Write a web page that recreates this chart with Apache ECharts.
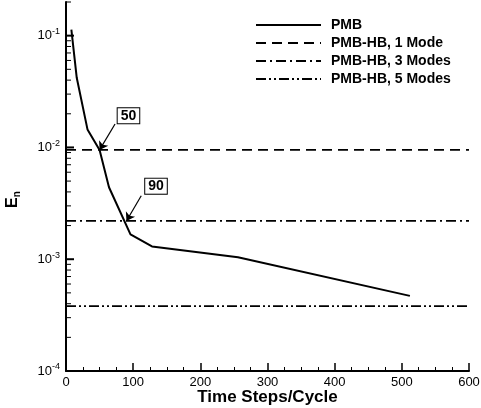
<!DOCTYPE html>
<html><head><meta charset="utf-8">
<script src="https://cdn.jsdelivr.net/npm/echarts@6/dist/echarts.min.js"></script>
<style>html,body{margin:0;padding:0;background:#fff}#c{width:481px;height:408px}</style>
</head><body><div id="c"></div>
<script>
// ---- data ----
const pmbName = 'PMB';
const pmbSteps = [8, 16, 32, 50, 64, 96, 128, 256, 512];
const pmbErr = [0.113, 0.042, 0.0145, 0.0095, 0.0044, 0.00167, 0.0013, 0.00104, 0.00047];
const hbNames = ['PMB-HB, 1 Mode', 'PMB-HB, 3 Modes', 'PMB-HB, 5 Modes'];
const hbErr = [0.0095, 0.0022, 0.00038];
const hbSpan = [0, 600];
const annoText = ['50', '90'];
const annoTarget = [[50, 0.0095], [90, 0.0022]];
const annoTail = [[73, 0.0162], [112, 0.0037]];
const annoBox = [[93, 0.0192], [134, 0.0045]];
const yDecades = [-4, -3, -2, -1];

const FONT = 'Liberation Sans';
const yTickVals = [];
yDecades.forEach(function (e) {
  for (let m = 1; m <= 9; m++) {
    const v = m * Math.pow(10, e);
    if (v <= 0.2) yTickVals.push([0, v, m === 1 ? 1 : 0]);
  }
});
const dashes = [[10, 6], [10, 4, 2, 4], [10, 3, 2, 3, 2, 3]];

const chart = echarts.init(document.getElementById('c'), null, {renderer: 'canvas'});
const series = [];
series.push({
  name: pmbName, type: 'line', symbol: 'none', z: 5,
  data: pmbSteps.map(function (x, i) { return [x, pmbErr[i]]; }),
  lineStyle: {color: '#000', width: 2, type: 'solid'},
  itemStyle: {color: '#000'},
  markLine: {
    silent: true, symbol: ['none', 'arrow'], symbolSize: 8,
    label: {show: false},
    lineStyle: {color: '#000', width: 1.2, type: 'solid'},
    data: annoTarget.map(function (t, i) {
      return [{coord: annoTail[i]}, {coord: t}];
    })
  },
  markPoint: {
    silent: true, symbol: 'rect', symbolSize: 0,
    label: {
      show: true, position: 'inside', color: '#000', fontFamily: FONT, fontWeight: 'bold', fontSize: 14,
      backgroundColor: '#fff', borderColor: '#000', borderWidth: 1, padding: [1, 3, 0, 3],
      formatter: function (p) { return p.name; }
    },
    data: annoBox.map(function (b, i) { return {name: annoText[i], coord: b}; })
  }
});
hbNames.forEach(function (n, i) {
  series.push({
    name: n, type: 'line', symbol: 'none', z: 4,
    data: hbSpan.map(function (x) { return [x, hbErr[i]]; }),
    lineStyle: {color: '#000', width: 1.8, type: dashes[i]},
    itemStyle: {color: '#000'}
  });
});
series.push({
  type: 'custom', silent: true, z: 3, clip: false,
  encode: {x: 0, y: 1},
  data: yTickVals,
  renderItem: function (params, api) {
    const pt = api.coord([0, api.value(1)]);
    const major = api.value(2) === 1;
    return {type: 'line', shape: {x1: pt[0], y1: pt[1], x2: pt[0] + (major ? 8 : 5), y2: pt[1]},
      style: {stroke: '#000', lineWidth: major ? 2 : 1}};
  }
});

chart.setOption({
  animation: false,
  backgroundColor: '#fff',
  grid: {left: 66, right: 12, top: 2, bottom: 37, outerBoundsMode: 'none', containLabel: false},
  legend: {
    orient: 'vertical', left: 250, top: 13, itemWidth: 65, itemHeight: 10, itemGap: 4,
    data: [pmbName].concat(hbNames),
    itemStyle: {opacity: 0},
    textStyle: {fontFamily: FONT, fontWeight: 'bold', fontSize: 14, color: '#000', padding: [0, 0, 0, 5]}
  },
  xAxis: {
    type: 'value', min: 0, max: 600, interval: 100,
    axisLine: {lineStyle: {color: '#000', width: 2}},
    axisTick: {inside: true, length: 8, lineStyle: {color: '#000', width: 1.5}},
    minorTick: {show: true, splitNumber: 4, length: 4, lineStyle: {color: '#000', width: 1}},
    splitLine: {show: false},
    axisLabel: {color: '#000', fontSize: 13, fontFamily: FONT, margin: 5},
    name: 'Time Steps/Cycle', nameLocation: 'middle', nameGap: 17.5, nameMoveOverlap: false,
    nameTextStyle: {fontFamily: FONT, fontWeight: 'bold', fontSize: 17, color: '#000'}
  },
  yAxis: {
    type: 'log', logBase: 10, min: 1e-4, max: 0.2,
    axisLine: {show: true, onZero: false, lineStyle: {color: '#000', width: 2}},
    axisTick: {show: false},
    splitLine: {show: false},
    axisLabel: {
      color: '#000', fontFamily: FONT, fontSize: 13, margin: 6,
      formatter: function (v) {
        const e = Math.log10(v);
        if (Math.abs(e - Math.round(e)) > 0.01) return '';
        return '10{s|' + Math.round(e) + '}';
      },
      rich: {s: {fontSize: 9, fontFamily: FONT, color: '#000', padding: [0, 0, 8, 0]}}
    },
    name: 'E{n|n}', nameLocation: 'middle', nameGap: 44, nameMoveOverlap: false,
    nameTextStyle: {fontFamily: FONT, fontWeight: 'bold', fontSize: 16, color: '#000', padding: [0, 26, 0, 0],
      rich: {n: {fontFamily: FONT, fontWeight: 'bold', fontSize: 10, color: '#000', padding: [8, 0, 0, 0]}}}
  },
  series: series
});
</script>
</body></html>
